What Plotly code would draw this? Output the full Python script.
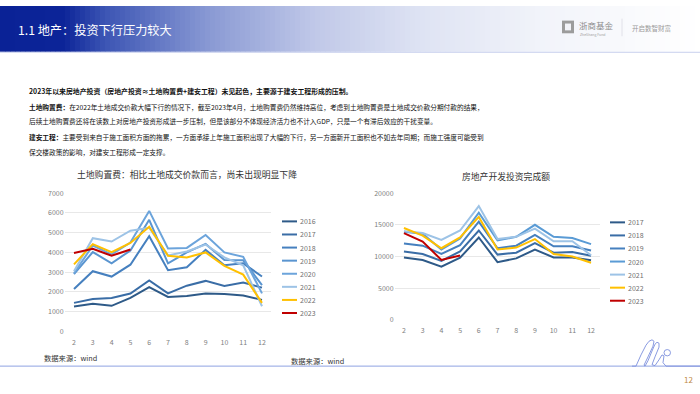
import plotly.graph_objects as go

W, H = 700, 394
def px(x): return x / W
def py(y): return 1 - y / H

months = [2, 3, 4, 5, 6, 7, 8, 9, 10, 11, 12]

# 土地购置费 (left chart)
land_years = ["2016", "2017", "2018", "2019", "2020", "2021", "2022", "2023"]
land_2016 = [1270, 1400, 1300, 1700, 2250, 1750, 1800, 1920, 1900, 1820, 1600]
land_2017 = [1450, 1650, 1700, 1920, 2580, 1930, 2320, 2560, 2300, 2480, 2220]
land_2018 = [2150, 3050, 2780, 3380, 4820, 3100, 3250, 4130, 3350, 3450, 2780]
land_2019 = [2900, 4020, 3450, 4100, 5650, 3450, 4000, 4430, 3620, 3600, 2350]
land_2020 = [2950, 4350, 3900, 4500, 6100, 4200, 4230, 4880, 4000, 3780, 1930]
land_2021 = [3050, 4720, 4550, 5100, 5250, 3850, 4050, 4400, 3750, 3350, 1280]
land_2022 = [3400, 4420, 4020, 4480, 5300, 3830, 3750, 4000, 3320, 2880, 1450]
land_2023 = [3970, 4180, 3830, 4150]
land_series = [land_2016, land_2017, land_2018, land_2019, land_2020, land_2021, land_2022, land_2023]
land_colors = ["#2E5A88", "#3A6DA6", "#4680BF", "#5A95D0", "#6CA4DB", "#9DC3E6", "#FFC000", "#C00000"]

# 房地产开发投资完成额 (right chart)
inv_years = ["2017", "2018", "2019", "2020", "2021", "2022", "2023"]
inv_2017 = [9850, 9450, 8400, 9800, 13000, 9100, 9700, 11100, 9850, 9850, 9400]
inv_2018 = [10800, 10400, 9300, 10800, 14100, 10300, 10600, 12100, 10600, 10700, 10100]
inv_2019 = [12050, 11700, 10400, 11800, 15500, 11300, 11700, 13400, 11600, 11600, 10950]
inv_2020 = [13900, 13600, 11100, 12850, 16900, 12550, 13100, 15000, 13100, 12900, 11950]
inv_2021 = [14000, 13700, 12600, 14100, 17950, 12750, 13100, 14400, 12400, 12400, 10200]
inv_2022 = [14500, 13300, 11300, 13000, 16250, 11100, 11400, 12750, 10400, 10000, 9000]
inv_2023 = [13700, 12350, 9450, 10150]
inv_series = [inv_2017, inv_2018, inv_2019, inv_2020, inv_2021, inv_2022, inv_2023]
inv_colors = ["#2E5A88", "#3A6DA6", "#4680BF", "#5A9BD5", "#9DC3E6", "#FFC000", "#C00000"]

left_ticks = [0, 1000, 2000, 3000, 4000, 5000, 6000, 7000]
right_ticks = [0, 5000, 10000, 15000, 20000]

FONT = "Noto Sans CJK SC"
fig = go.Figure()

for yr, vals, col in zip(land_years, land_series, land_colors):
    fig.add_trace(go.Scatter(x=months[:len(vals)], y=vals, mode="lines", name=yr,
                             line=dict(color=col, width=2), xaxis="x", yaxis="y", showlegend=False))
for yr, vals, col in zip(inv_years, inv_series, inv_colors):
    fig.add_trace(go.Scatter(x=months[:len(vals)], y=vals, mode="lines", name=yr,
                             line=dict(color=col, width=2), xaxis="x2", yaxis="y2", showlegend=False))

axis_font = dict(family=FONT, size=7, color="#808080")
common_x = dict(range=[1.5, 12.5], tickmode="array", tickvals=months, showgrid=False,
                zeroline=False, showline=False, ticks="", tickfont=axis_font, ticklabelstandoff=5)
common_y = dict(showgrid=True, gridcolor="#E8E8E8", gridwidth=1, zeroline=False,
                showline=False, ticks="", tickfont=axis_font, tickformat="d")

shapes = []
annotations = []

# Header gradient strips
stops = [(0, (10, 34, 150)), (0.09, (12, 36, 152)), (0.15, (60, 85, 180)), (0.3, (138, 154, 212)),
         (0.45, (192, 200, 232)), (0.6, (222, 227, 243)), (0.78, (242, 244, 250)), (1, (255, 255, 255))]
def grad(t):
    for (t0, c0), (t1, c1) in zip(stops[:-1], stops[1:]):
        if t0 <= t <= t1:
            f = (t - t0) / (t1 - t0) if t1 > t0 else 0
            return "rgb(%d,%d,%d)" % tuple(round(a + (b - a) * f) for a, b in zip(c0, c1))
    return "rgb(255,255,255)"
N = 140
for i in range(N):
    x0 = W * i / N
    x1 = W * (i + 1) / N + 0.6
    shapes.append(dict(type="rect", xref="paper", yref="paper", x0=px(x0), x1=px(min(x1, W)),
                       y0=py(47), y1=py(0), fillcolor=grad((i + 0.5) / N), line=dict(width=0), layer="below"))
shapes.append(dict(type="line", xref="paper", yref="paper", x0=0, x1=1, y0=py(47.5), y1=py(47.5),
                   line=dict(color="#C9D0EE", width=1)))

annotations.append(dict(text="1.1 地产：投资下行压力较大", x=px(16), y=py(25), xref="paper", yref="paper",
                        xanchor="left", yanchor="middle", showarrow=False,
                        font=dict(family=FONT, size=12.2, color="white")))

# logo
shapes.append(dict(type="rect", xref="paper", yref="paper", x0=px(562), x1=px(574), y0=py(28), y1=py(15),
                   fillcolor="#9C9C9C", line=dict(width=0)))
shapes.append(dict(type="rect", xref="paper", yref="paper", x0=px(565), x1=px(571), y0=py(25), y1=py(18),
                   fillcolor="#F2F3F8", line=dict(width=0)))
annotations.append(dict(text="浙商基金", x=px(577), y=py(20), xref="paper", yref="paper", xanchor="left",
                        yanchor="middle", showarrow=False, font=dict(family=FONT, size=8.5, color="#8C8C8C")))
annotations.append(dict(text="ZheShang Fund", x=px(578), y=py(29), xref="paper", yref="paper", xanchor="left",
                        yanchor="middle", showarrow=False, font=dict(family=FONT, size=3.5, color="#A0A0A0")))
shapes.append(dict(type="line", xref="paper", yref="paper", x0=px(622), x1=px(622), y0=py(31), y1=py(13),
                   line=dict(color="#DADCE4", width=0.8)))
annotations.append(dict(text="开启数智财富", x=px(630), y=py(23), xref="paper", yref="paper", xanchor="left",
                        yanchor="middle", showarrow=False, font=dict(family=FONT, size=6.5, color="#9A9A9A")))

# Body text
lines = [
    (87.7, 6.9, "<b>2023年以来房地产投资（房地产投资≈土地购置费+建安工程）未见起色，主要源于建安工程形成的压制。</b>"),
    (103.3, 6.7, "<b>土地购置费：</b>在2022年土地成交价款大幅下行的情况下，截至2023年4月，土地购置费仍然维持高位，考虑到土地购置费是土地成交价款分期付款的结果，"),
    (118.5, 6.7, "后续土地购置费还将在读数上对房地产投资形成进一步压制，但是该部分不体现经济活力也不计入GDP，只是一个有滞后效应的干扰变量。"),
    (134.5, 6.7, "<b>建安工程：</b>主要受到来自于施工面积方面的拖累，一方面承接上年施工面积出现了大幅的下行，另一方面新开工面积也不如去年同期；而施工强度可能受到"),
    (150.0, 6.7, "保交楼政策的影响，对建安工程形成一定支撑。"),
]
for yy, fs, t in lines:
    annotations.append(dict(text=t, x=px(27), y=py(yy), xref="paper", yref="paper", xanchor="left",
                            yanchor="middle", showarrow=False, font=dict(family=FONT, size=fs, color="#111111")))

# Chart titles
annotations.append(dict(text="土地购置费：相比土地成交价款而言，尚未出现明显下降", x=px(187), y=py(173),
                        xref="paper", yref="paper", xanchor="center", yanchor="middle", showarrow=False,
                        font=dict(family=FONT, size=8.8, color="#333333")))
annotations.append(dict(text="房地产开发投资完成额", x=px(506), y=py(175),
                        xref="paper", yref="paper", xanchor="center", yanchor="middle", showarrow=False,
                        font=dict(family=FONT, size=8.8, color="#333333")))

# Manual legends
def add_legend(years, colors, x0, x1, xt, ytop, step):
    for i, (yr, col) in enumerate(zip(years, colors)):
        yy = ytop + i * step
        shapes.append(dict(type="line", xref="paper", yref="paper", x0=px(x0), x1=px(x1),
                           y0=py(yy), y1=py(yy), line=dict(color=col, width=2)))
        annotations.append(dict(text=yr, x=px(xt), y=py(yy), xref="paper", yref="paper", xanchor="left",
                                yanchor="middle", showarrow=False, font=dict(family=FONT, size=7, color="#6E6E6E")))
add_legend(land_years, land_colors, 282, 297, 297.5, 221, 13.43)
add_legend(inv_years, inv_colors, 610, 625, 625.5, 222, 13.4)

# Source notes
annotations.append(dict(text="数据来源：wind", x=px(42), y=py(361), xref="paper", yref="paper", xanchor="left",
                        yanchor="middle", showarrow=False, font=dict(family=FONT, size=7.3, color="#333333")))
annotations.append(dict(text="数据来源：wind", x=px(289), y=py(364), xref="paper", yref="paper", xanchor="left",
                        yanchor="middle", showarrow=False, font=dict(family=FONT, size=7.3, color="#333333")))

# Footer line, logo squiggle, page number
shapes.append(dict(type="line", xref="paper", yref="paper", x0=0, x1=1, y0=py(369.5), y1=py(369.5),
                   line=dict(color="#8FA2E2", width=1)))
def P(pts):
    return " ".join(("M" if i == 0 else "L") + " %.5f,%.5f" % (px(a), py(b)) for i, (a, b) in enumerate(pts))
squig = [(632, 369.5), (636, 369.5), (641, 358), (646, 348), (649, 344), (652, 342.5), (654, 344),
         (653, 349), (648, 360), (644, 368.5), (645, 369.5), (648, 364), (652, 354), (655, 347),
         (657, 345), (659, 346), (659, 350), (655, 360), (652, 368), (655, 369), (659, 363),
         (662, 358), (664, 359), (663, 366), (666, 369.5), (700, 369.5)]
shapes.append(dict(type="path", xref="paper", yref="paper", path=P(squig),
                   line=dict(color="#7C8EDC", width=0.9)))
shapes.append(dict(type="circle", xref="paper", yref="paper", x0=px(664), x1=px(670.5), y0=py(359), y1=py(352.5),
                   line=dict(color="#7C8EDC", width=0.9)))
annotations.append(dict(text="12", x=px(695), y=py(383), xref="paper", yref="paper", xanchor="right",
                        yanchor="middle", showarrow=False, font=dict(family=FONT, size=8, color="#C08A45")))

fig.update_layout(
    width=W, height=H, margin=dict(l=0, r=0, t=0, b=0),
    paper_bgcolor="white", plot_bgcolor="rgba(0,0,0,0)", showlegend=False,
    xaxis=dict(domain=[px(64.6), px(271.4)], anchor="y", **common_x),
    yaxis=dict(domain=[py(334), py(192)], anchor="x", range=[0, 7000], tickvals=left_ticks, **common_y),
    xaxis2=dict(domain=[px(394.6), px(600.4)], anchor="y2", **common_x),
    yaxis2=dict(domain=[py(322), py(192)], anchor="x2", range=[0, 20000], tickvals=right_ticks, **common_y),
    shapes=shapes, annotations=annotations,
)

fig.write_html("out.html", config={"displayModeBar": False},
               post_script="document.body.style.margin='0';document.body.style.padding='0';document.body.style.overflow='hidden';")
